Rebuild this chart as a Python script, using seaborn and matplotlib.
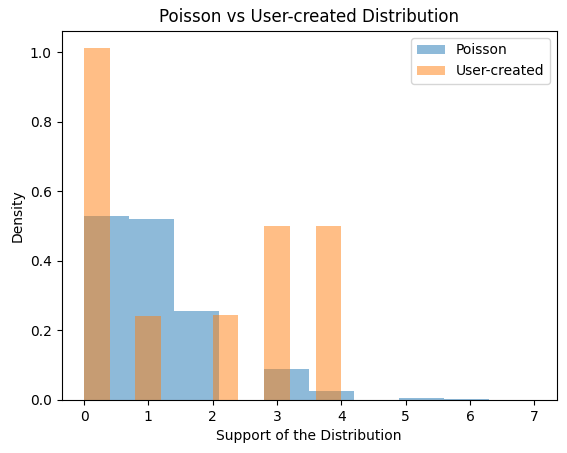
import numpy as np
import matplotlib
matplotlib.use('Agg')
import matplotlib.pyplot as plt
import seaborn as sns

# support of each distribution and the share of samples at each value
poisson_support = [0, 1, 2, 3, 4, 5, 6, 7]
poisson_prob = [0.371, 0.364, 0.179, 0.063, 0.0175, 0.0035, 0.0014, 0.0001]

user_support = [0, 1, 2, 3, 4]
user_prob = [0.404, 0.097, 0.098, 0.200, 0.200]

fig, ax = plt.subplots(figsize=(5.67, 4.53), dpi=100)

sns.histplot(x=poisson_support, weights=poisson_prob, bins=10, stat='density',
             color='C0', alpha=0.5, linewidth=0, label='Poisson', ax=ax)
sns.histplot(x=user_support, weights=user_prob, bins=10, stat='density',
             color='C1', alpha=0.5, linewidth=0, label='User-created', ax=ax)

ax.set_title('Poisson vs User-created Distribution')
ax.set_xlabel('Support of the Distribution')
ax.set_ylabel('Density')
ax.legend(loc='upper right')

plt.subplots_adjust(left=0.1085, right=0.982, top=0.932, bottom=0.117)
plt.savefig('out.png', dpi=100)
